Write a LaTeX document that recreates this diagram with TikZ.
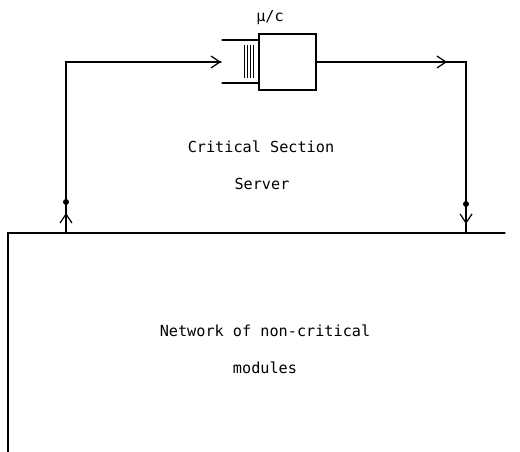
\documentclass[tikz,border=0pt]{standalone}
\usepackage{fontspec}
\setmainfont{DejaVu Sans Mono}
\usetikzlibrary{arrows.meta,decorations.markings}
\tikzset{
  ln/.style={line width=1.2pt, line cap=round, line join=miter},
  barb/.style={-{Straight Barb[length=9pt,width=12pt,line width=1.2pt]}},
  lbl/.style={font=\fontsize{15.2}{17}\selectfont, inner sep=0pt},
  dotnode/.style={circle, fill=black, inner sep=0pt, minimum size=6pt},
  srv/.style={draw, line width=1.2pt, minimum width=57pt, minimum height=56pt, inner sep=0pt},
}
\begin{document}
\begin{tikzpicture}[x=1pt,y=-1pt]
\useasboundingbox (0,0) rectangle (520,452);
% server box and queue
\node[srv] (srv) at (287.5,62) {};
\node[lbl, anchor=south] (mu) at (270,25) {µ/c};
\coordinate (qtop) at (222,40);
\coordinate (qbot) at (222,83);
\draw[ln] (qtop) -- (qtop -| srv.west);
\draw[ln] (qbot) -- (qbot -| srv.west);
\foreach \x in {244,247,250,253} \draw[line width=0.9pt] (\x,45) -- (\x,78);
\coordinate (qin) at (221,62);
% network box (open)
\coordinate (nl) at (8,233);
\coordinate (nr) at (505,233);
\draw[ln] (8,452) -- (nl) -- (nr);
% left return path
\coordinate (lb) at (66,233);
\coordinate (lc) at (66,62);
\node[dotnode] (ldot) at (66,202) {};
\draw[ln] (lb) -- (lc) -- (qin);
\draw[ln, barb] (lc) -- (qin);
\draw[ln, barb] (lb) -- (66,213);
% right path
\coordinate (rc) at (466,62);
\coordinate (rb) at (466,233);
\node[dotnode] (rdot) at (466,204) {};
\draw[ln] (srv.east) -- (rc) -- (rb);
\draw[ln, barb] (srv.east) -- (447,62);
\draw[ln, barb] (rc) -- (466,224);
% texts
\node[lbl] (t1) at (261,147) {Critical Section};
\node[lbl] (t2) at (262,184) {Server};
\node[lbl] (t3) at (265,331) {Network of non-critical};
\node[lbl] (t4) at (265,368) {modules};
\end{tikzpicture}
\end{document}
